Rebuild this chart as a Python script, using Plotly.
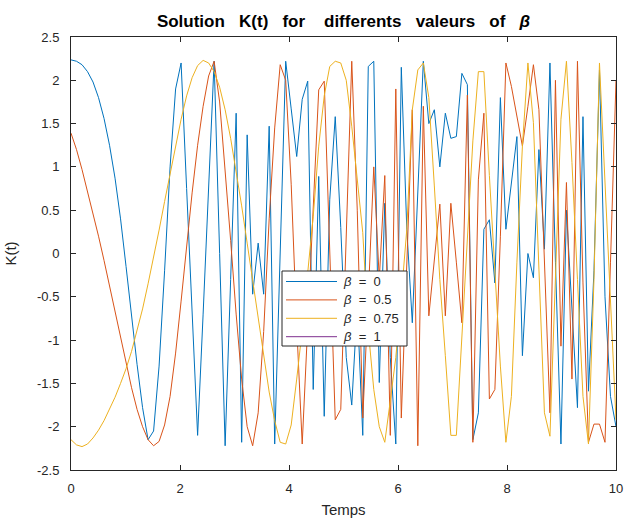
import numpy as np
import plotly.graph_objects as go

# time grid (100 samples between 0 and 10)
t = np.linspace(0, 10, 100)

beta_labels = ["0", "0.5", "0.75", "1"]

k_beta0 = [
    2.236, 2.22, 2.18, 2.1, 1.98, 1.8, 1.56, 1.25, 0.87, 0.4,
    -0.15, -0.72, -1.28, -1.78, -2.15, -2.05, -1.3, -0.2, 1.0, 1.9,
    2.2, 0.75, -0.75, -2.1, -0.7, 0.8, 2.22, 0.0, -2.22, -0.3,
    1.62, -2.18, 1.37, -0.47, 0.12, -0.47, 1.47, -2.2, 0.0, 2.22,
    1.67, 1.12, 1.78, 1.99, -1.57, 0.89, -1.88, 0.62, 1.58, 0.3,
    -1.2, -1.75, -0.6, -2.1, 2.16, 2.22, -1.49, 0.58, -1.2, -2.2,
    2.15, 0.28, -0.8, 0.66, 2.22, 1.5, 1.66, 1.0, 1.62, 1.33,
    1.35, 2.08, 1.95, -2.15, -1.84, 0.28, 0.39, -0.34, 1.8, 0.28,
    0.8, 1.35, -1.18, 0.0, -0.28, 1.2, 0.05, 2.2, -0.1, -2.2,
    0.5, -0.6, -1.78, 1.58, -1.59, -0.2, 2.12, -0.5, -1.65, -2.0,
]

k_beta05 = [
    1.39, 1.2, 0.97, 0.72, 0.47, 0.2, -0.08, -0.37, -0.67, -0.97,
    -1.27, -1.55, -1.8, -2.0, -2.15, -2.22, -2.17, -1.98, -1.65, -1.15,
    -0.55, 0.1, 0.7, 1.25, 1.7, 2.05, 2.22, 1.75, 1.0, 0.15,
    -0.7, -1.45, -2.0, -2.22, -1.84, -0.9, 0.4, 1.45, 2.18, 2.0,
    0.8, -0.84, -2.2, -0.88, 0.5, 1.89, 1.99, 0.05, -1.92, -1.8,
    0.3, 2.22, 0.5, -1.9, -0.5, 1.0, -0.3, 0.9, -2.1, 1.9,
    -1.9, -0.1, 1.66, -2.22, 1.7, -0.72, -0.1, 0.57, -0.72, 0.58,
    -0.1, -0.8, 1.83, -2.18, 0.85, 1.62, -1.68, -1.57, 0.2, 2.2,
    1.93, 1.58, 1.24, 1.7, 2.18, 1.66, -0.1, -1.84, 2.0, -1.07,
    0.82, -1.45, 2.22, -0.34, -2.18, -1.97, -1.97, -2.18, -0.1, 2.0,
]

k_beta075 = [
    -2.15, -2.21, -2.23, -2.2, -2.13, -2.04, -1.93, -1.8, -1.66, -1.5,
    -1.33, -1.13, -0.9, -0.64, -0.35, -0.05, 0.27, 0.6, 0.93, 1.25,
    1.55, 1.82, 2.03, 2.17, 2.23, 2.2, 2.1, 1.92, 1.66, 1.33,
    0.95, 0.55, 0.12, -0.32, -0.77, -1.2, -1.6, -1.93, -2.18, -2.2,
    -1.98, -1.45, -0.88, -0.22, 0.43, 1.24, 1.82, 2.16, 2.22, 2.2,
    2.0, 1.47, 0.82, 0.24, -0.88, -1.57, -2.0, -2.18, -1.7, -1.2,
    -0.5, 0.28, 1.66, 2.12, 2.2, 1.8, 0.78, -0.3, -1.18, -2.1,
    -2.1, -1.0, 0.2, 1.3, 2.1, 2.1, 0.9, -0.2, -1.3, -2.18,
    -1.65, -0.1, 1.24, 2.2, 1.51, -0.18, -1.84, -2.11, -0.3, 1.55,
    2.22, 1.05, -0.3, -1.65, -2.2, -0.3, 2.2, 0.85, -0.68, -1.92,
]

# beta = 1 : no finite values (not drawn in the original)
k_beta1 = [None] * 100

series = [k_beta0, k_beta05, k_beta075, k_beta1]
colors = ["#0072BD", "#D95319", "#EDB120", "#7E2F8E"]

ytick_vals = [-2.5, -2, -1.5, -1, -0.5, 0, 0.5, 1, 1.5, 2, 2.5]
ytick_text = ["-2.5", "-2", "-1.5", "-1", "-0.5", "0", "0.5", "1", "1.5", "2", "2.5"]
xtick_vals = [0, 2, 4, 6, 8, 10]

sp = "&nbsp;"
font_family = "Liberation Sans, Arial, sans-serif"
axis_col = "#262626"

fig = go.Figure()
for lab, ys, col in zip(beta_labels, series, colors):
    fig.add_trace(go.Scatter(
        x=t, y=ys, mode="lines", name=f"β = {lab}",
        line=dict(color=col, width=1), showlegend=False,
    ))

# ---- legend box drawn in plot-area (paper) coordinates ----
PX0, PX1, PY0, PY1 = 71, 616, 37, 470   # plot area in page pixels


def px_x(px):
    return (px - PX0) / (PX1 - PX0)


def px_y(py):
    return (PY1 - py) / (PY1 - PY0)


fig.add_shape(type="rect", xref="paper", yref="paper",
              x0=px_x(282), x1=px_x(407), y0=px_y(346), y1=px_y(271),
              fillcolor="white", line=dict(color=axis_col, width=1), layer="above")
for k, (lab, col) in enumerate(zip(beta_labels, colors)):
    yc = px_y(281.5 + 18.4 * k)
    fig.add_shape(type="line", xref="paper", yref="paper",
                  x0=px_x(286), x1=px_x(337), y0=yc, y1=yc,
                  line=dict(color=col, width=1), layer="above")
    fig.add_annotation(xref="paper", yref="paper", x=px_x(341), y=yc,
                       xanchor="left", yanchor="middle", showarrow=False,
                       text=f"<i>β</i>{sp}{sp}={sp}{sp}{lab}",
                       font=dict(size=13, color=axis_col, family=font_family))

W, H = 625, 518
fig.update_layout(
    width=W, height=H,
    margin=dict(l=71, r=9, t=37, b=48, autoexpand=False),
    paper_bgcolor="white", plot_bgcolor="white",
    font=dict(family=font_family, color=axis_col, size=13),
    title=dict(
        text=(f"<b>Solution{sp}{sp}{sp}K(t){sp}{sp}{sp}for{sp}{sp}{sp}{sp}differents"
              f"{sp}{sp}{sp}valeurs{sp}{sp}{sp}of{sp}{sp}{sp}<i>β</i></b>"),
        x=0.5, xref="paper", xanchor="center",
        y=1 - 21 / H, yanchor="middle",
        font=dict(size=17, color="black", family=font_family),
    ),
    xaxis=dict(
        range=[0, 10], tickvals=xtick_vals, ticks="inside", ticklen=5,
        tickcolor=axis_col, showline=True, mirror="allticks",
        linecolor=axis_col, linewidth=1, showgrid=False, zeroline=False,
        tickfont=dict(size=13, color=axis_col), automargin=False,
        ticklabelstandoff=6,
        title=dict(text="Temps", font=dict(size=15, color=axis_col), standoff=9),
    ),
    yaxis=dict(
        range=[-2.5, 2.5], tickvals=ytick_vals, ticktext=ytick_text,
        ticks="inside", ticklen=5, tickcolor=axis_col, showline=True,
        mirror="allticks", linecolor=axis_col, linewidth=1, showgrid=False,
        zeroline=False, tickfont=dict(size=13, color=axis_col), automargin=False,
        ticklabelstandoff=8,
        title=dict(text="K(t)", font=dict(size=15, color=axis_col), standoff=16),
    ),
    showlegend=False,
)

# remove the default page margin so the figure sits at the window origin
fig.write_html(
    "out.html",
    config={"displayModeBar": False},
    post_script="document.body.style.margin='0';document.body.style.overflow='hidden';",
)
